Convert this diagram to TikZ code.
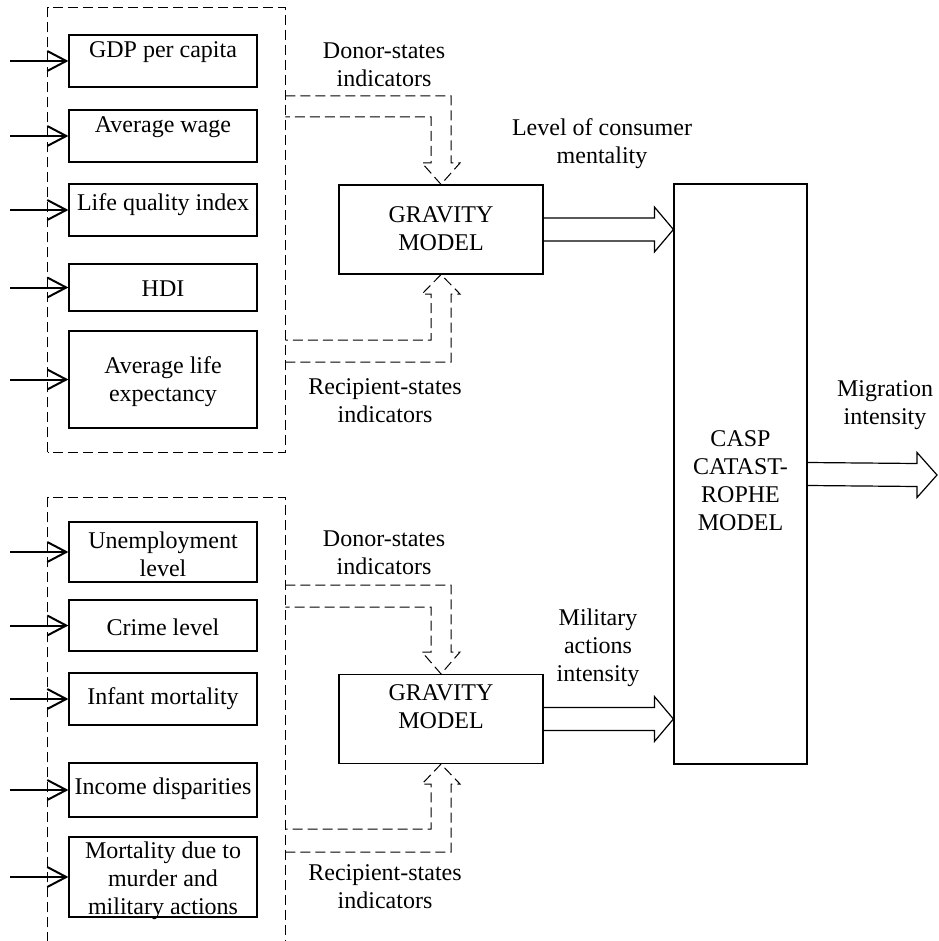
\documentclass[tikz,border=0pt]{standalone}
\usepackage{fontspec}
\setmainfont{Liberation Serif}
\usetikzlibrary{arrows.meta,calc}

\tikzset{
  itembox/.style={draw, line width=0.6pt, minimum width=94pt, inner sep=0pt},
  modelbox/.style={draw, line width=0.6pt, inner sep=0pt},
  groupbox/.style={dash pattern=on 5pt off 2.5pt, line width=0.5pt},
  lbl/.style={align=center, font=\fontsize{12}{14}\selectfont, inner sep=0pt},
  inarrow/.style={line width=1pt, -{Straight Barb[length=9.5pt,width=10pt]}},
  fat/.style={line width=0.6pt, line join=miter},
  dashblk/.style={dash pattern=on 5pt off 2.5pt, line width=0.5pt},
}

\begin{document}
\begin{tikzpicture}[x=0.5pt, y=-0.5pt]
\useasboundingbox (0,0) rectangle (938,941);

\node[inner sep=0pt, minimum width=118.5pt, minimum height=222pt] (grpA) at (166.5,230) {};
\node[inner sep=0pt, minimum width=118.5pt, minimum height=222pt] (grpB) at (166.5,720) {};
\draw[groupbox] (grpA.south west) rectangle (grpA.north east);
\draw[groupbox] (grpB.south west) -- (grpB.north west) -- (grpB.north east) -- (grpB.south east);

\node[itembox, minimum height=26pt] (gdp) at (163,61) {};
\node[itembox, minimum height=26pt] (wage) at (163,136) {};
\node[itembox, minimum height=26pt] (lqi) at (163,210) {};
\node[itembox, minimum height=23.5pt] (hdi) at (163,287.5) {};
\node[itembox, minimum height=48.5pt] (ale) at (163,379.5) {};
\node[itembox, minimum height=30pt] (unemp) at (163,552) {};
\node[itembox, minimum height=25.5pt] (crime) at (163,625.5) {};
\node[itembox, minimum height=26pt] (infant) at (163,699) {};
\node[itembox, minimum height=27pt] (income) at (163,790) {};
\node[itembox, minimum height=40pt] (mort) at (163,877) {};

\node[lbl] (t-gdp) at (163,52) {GDP per capita};
\node[lbl] (t-wage) at (163,127) {Average wage};
\node[lbl] (t-lqi) at (163,205) {Life quality index};
\node[lbl] (t-hdi) at (163,289) {HDI};
\node[lbl] (t-ale) at (163,382) {Average life\\expectancy};
\node[lbl] (t-unemp) at (163,554) {Unemployment\\level};
\node[lbl] (t-crime) at (163,627) {Crime level};
\node[lbl] (t-infant) at (163,699) {Infant mortality};
\node[lbl] (t-income) at (163,789) {Income disparities};
\node[lbl] (t-mort) at (163,881) {Mortality due to\\murder and\\military actions};

\draw[inarrow] ([xshift=-29pt]gdp.west) -- (gdp.west);
\draw[inarrow] ([xshift=-29pt]wage.west) -- (wage.west);
\draw[inarrow] ([xshift=-29pt]lqi.west) -- (lqi.west);
\draw[inarrow] ([xshift=-29pt]hdi.west) -- (hdi.west);
\draw[inarrow] ([xshift=-29pt]ale.west) -- (ale.west);
\draw[inarrow] ([xshift=-29pt]unemp.west) -- (unemp.west);
\draw[inarrow] ([xshift=-29pt]crime.west) -- (crime.west);
\draw[inarrow] ([xshift=-29pt]infant.west) -- (infant.west);
\draw[inarrow] ([xshift=-29pt]income.west) -- (income.west);
\draw[inarrow] ([xshift=-29pt]mort.west) -- (mort.west);

\node[modelbox, minimum width=102pt, minimum height=44.5pt] (gravA) at (441,229.5) {};
\node[modelbox, minimum width=102pt, minimum height=44.5pt] (gravB) at (441,719) {};
\node[modelbox, minimum width=66.5pt, minimum height=290pt] (casp) at (740.5,474) {};
\node[lbl] (t-gravA) at (441,229) {GRAVITY\\MODEL};
\node[lbl] (t-gravB) at (441,707) {GRAVITY\\MODEL};
\node[lbl] (t-casp) at (740.5,481) {CASP\\CATAST-\\ROPHE\\MODEL};

\node[lbl] (donA) at (384,65) {Donor-states\\indicators};
\node[lbl] (recA) at (385,401) {Recipient-states\\indicators};
\node[lbl] (donB) at (384,553) {Donor-states\\indicators};
\node[lbl] (recB) at (385,887) {Recipient-states\\indicators};
\node[lbl] (cons) at (602,144) {Level of consumer\\mentality};
\node[lbl] (mil) at (598,648) {Military\\actions\\intensity};
\node[lbl] (mig) at (885,405) {Migration\\intensity};

\draw[dashblk] (grpA.east |- 0,96) -- (451,96) -- (451,163) -- (460,163) -- (gravA.north) -- (422,163) -- (431,163) -- (431,117) -- (grpA.east |- 0,117);
\draw[dashblk] (grpA.east |- 0,362) -- (451,362) -- (451,294) -- (460,294) -- (gravA.south) -- (422,294) -- (431,294) -- (431,340) -- (grpA.east |- 0,340);
\draw[dashblk] (grpB.east |- 0,585) -- (451,585) -- (451,652) -- (460,652) -- (gravB.north) -- (422,652) -- (431,652) -- (431,607) -- (grpB.east |- 0,607);
\draw[dashblk] (grpB.east |- 0,852) -- (451,852) -- (451,784) -- (460,784) -- (gravB.south) -- (422,784) -- (431,784) -- (431,829) -- (grpB.east |- 0,829);

\coordinate (tipA) at (gravA.east -| casp.west);
\coordinate (tipB) at (gravB.east -| casp.west);
\coordinate (tipM) at (937,475);
\draw[fat] ([shift={(0,-11.5)}]gravA.east) -- ([shift={(-19,-11.5)}]tipA) -- ([shift={(-19,-22.5)}]tipA) -- (tipA) -- ([shift={(-19,22.5)}]tipA) -- ([shift={(-19,11.5)}]tipA) -- ([shift={(0,11.5)}]gravA.east);
\draw[fat] ([shift={(0,-11.5)}]gravB.east) -- ([shift={(-19,-11.5)}]tipB) -- ([shift={(-19,-22.5)}]tipB) -- (tipB) -- ([shift={(-19,22.5)}]tipB) -- ([shift={(-19,11.5)}]tipB) -- ([shift={(0,11.5)}]gravB.east);
\draw[fat] ([shift={(0,-11.5)}]casp.east) -- ([shift={(-20,-11.5)}]tipM) -- ([shift={(-20,-22.5)}]tipM) -- (tipM) -- ([shift={(-20,22.5)}]tipM) -- ([shift={(-20,11.5)}]tipM) -- ([shift={(0,11.5)}]casp.east);
\end{tikzpicture}
\end{document}
